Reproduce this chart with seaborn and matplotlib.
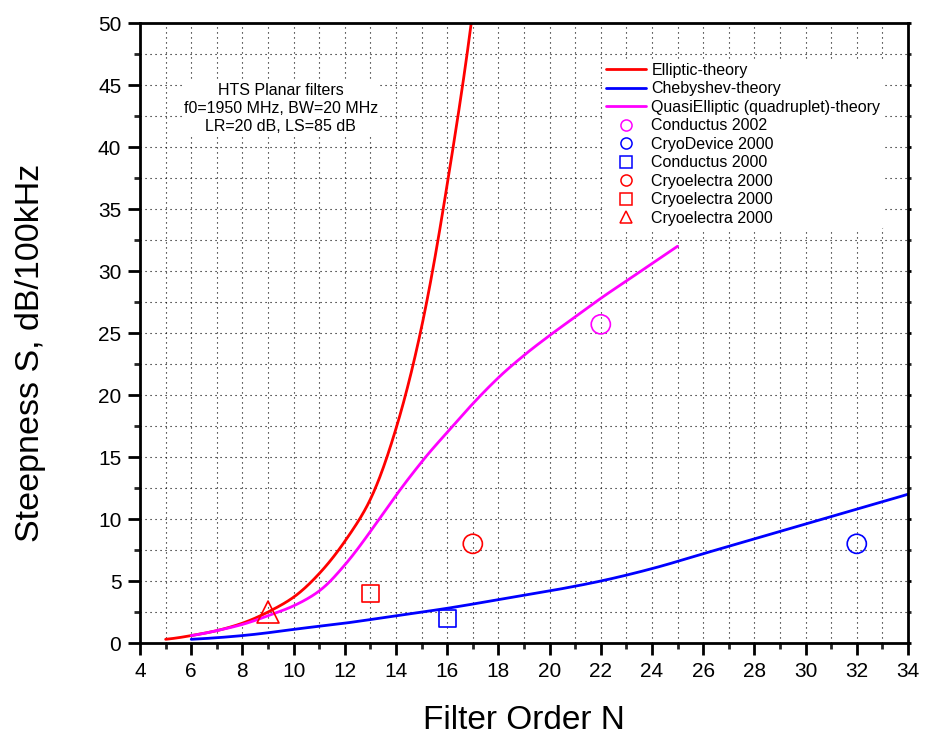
import numpy as np
import pandas as pd
import matplotlib
matplotlib.use("Agg")
import matplotlib.pyplot as plt
import seaborn as sns
from matplotlib.ticker import MultipleLocator
from matplotlib.lines import Line2D

sns.set_theme(style="white")
plt.rcParams['font.family'] = ['Liberation Sans', 'DejaVu Sans']
plt.rcParams['text.color'] = 'black'
plt.rcParams['axes.labelcolor'] = 'black'

# Theory curves
ell_n = [5, 6, 7, 8, 9, 10, 11, 12, 13, 14, 15, 16, 17]
ell_s = [0.3, 0.6, 1.0, 1.6, 2.5, 3.7, 5.6, 8.2, 11.6, 17.3, 25.5, 37.0, 51.0]
cheb_n = [6, 8, 10, 12, 14, 16, 18, 20, 22, 24, 26, 28, 30, 32, 34]
cheb_s = [0.3, 0.6, 1.1, 1.6, 2.2, 2.8, 3.5, 4.2, 5.0, 6.0, 7.2, 8.4, 9.6, 10.8, 12.0]
qe_n = [6, 7, 8, 9, 10, 11, 12, 13, 14, 15, 16, 17, 18, 19, 20, 21, 22, 23, 24, 25]
qe_s = [0.6, 1.0, 1.5, 2.2, 3.0, 4.2, 6.3, 9.0, 11.9, 14.6, 17.0, 19.3, 21.4, 23.2, 24.8, 26.3, 27.8, 29.2, 30.6, 32.0]

# Measured points
pt_labels = ["Conductus 2002", "CryoDevice 2000", "Conductus 2000",
             "Cryoelectra 2000", "Cryoelectra 2000", "Cryoelectra 2000"]
pt_n = [22, 32, 16, 17, 13, 9]
pt_s = [25.7, 8.0, 2.0, 8.0, 4.0, 2.5]
pt_colors = ["#ff00ff", "#0000ff", "#0000ff", "#ff0000", "#ff0000", "#ff0000"]
pt_markers = ["o", "o", "s", "o", "s", "^"]
pt_sizes = [190, 190, 150, 190, 150, 250]

fig = plt.figure(figsize=(9.25, 7.38), dpi=100)
ax = fig.add_axes([0.1514, 0.1287, 0.8302, 0.8401])

def smooth(xs, ys, num=400):
    xs = np.asarray(xs, float); ys = np.asarray(ys, float)
    xx = np.linspace(xs.min(), xs.max(), num)
    ly = np.log(ys)
    out = []
    for x in xx:
        i = np.searchsorted(xs, x) - 1
        i = min(max(i, 0), len(xs) - 2)
        x0, x1 = xs[i], xs[i + 1]
        t = (x - x0) / (x1 - x0)
        p0 = ly[i - 1] if i > 0 else 2 * ly[i] - ly[i + 1]
        p1 = ly[i]; p2 = ly[i + 1]
        p3 = ly[i + 2] if i + 2 < len(xs) else 2 * ly[i + 1] - ly[i]
        v = 0.5 * ((2 * p1) + (-p0 + p2) * t + (2 * p0 - 5 * p1 + 4 * p2 - p3) * t**2
                   + (-p0 + 3 * p1 - 3 * p2 + p3) * t**3)
        out.append(np.exp(v))
    return xx, np.array(out)

curves = [("Elliptic-theory", ell_n, ell_s, "#ff0000"),
          ("Chebyshev-theory", cheb_n, cheb_s, "#0000ff"),
          ("QuasiElliptic (quadruplet)-theory", qe_n, qe_s, "#ff00ff")]
handles = []
for name, xs, ys, c in curves:
    xx, yy = smooth(xs, ys)
    df = pd.DataFrame({"N": xx, "S": yy})
    sns.lineplot(data=df, x="N", y="S", ax=ax, color=c, linewidth=2, legend=False)
    handles.append(Line2D([], [], color=c, lw=2, label=name))

for lab, x, y, c, m, sz in zip(pt_labels, pt_n, pt_s, pt_colors, pt_markers, pt_sizes):
    df = pd.DataFrame({"N": [x], "S": [y]})
    sns.scatterplot(data=df, x="N", y="S", ax=ax, marker=m, s=sz,
                    facecolor="none", edgecolor=c, linewidth=1.2, legend=False, zorder=5)
    handles.append(Line2D([], [], ls="none", marker=m, markersize=8,
                          markerfacecolor="none", markeredgecolor=c, mew=1.1, label=lab))

ax.set_xlim(4, 34)
ax.set_ylim(0, 50)
ax.xaxis.set_major_locator(MultipleLocator(2))
ax.xaxis.set_minor_locator(MultipleLocator(1))
ax.yaxis.set_major_locator(MultipleLocator(5))
ax.yaxis.set_minor_locator(MultipleLocator(2.5))
ax.grid(True, which="both", color="black", linestyle=(0, (1, 3.5)), linewidth=0.8)
for sp in ax.spines.values():
    sp.set_color("black"); sp.set_linewidth(2)
ax.tick_params(axis="both", which="major", direction="out", length=8.5, width=2,
               labelsize=15, colors="black", bottom=True, left=True, pad=5)
ax.tick_params(axis="both", which="minor", direction="out", length=4.5, width=2,
               bottom=True, left=True)
ax.tick_params(axis="y", which="both", right=True, labelright=False)
for t in ax.yaxis.get_major_ticks() + ax.yaxis.get_minor_ticks():
    t.tick2line.set_markersize(2)

ax.set_xlabel("Filter Order N", fontsize=24, color="black")
ax.set_ylabel("Steepness S, dB/100kHz", fontsize=24.5, color="black")
ax.xaxis.set_label_coords(0.5, -0.1)
ax.yaxis.set_label_coords(-0.122, 0.468)

ax.text(9.5, 43.1, "HTS Planar filters\nf0=1950 MHz, BW=20 MHz\nLR=20 dB, LS=85 dB",
        ha="center", va="center", fontsize=11.5, linespacing=1.25, color="black",
        bbox=dict(facecolor="white", edgecolor="none", pad=1))

leg = ax.legend(handles=handles, loc="upper left", bbox_to_anchor=(0.592, 0.954),
                frameon=True, fontsize=11.5, handlelength=2.5, labelspacing=0.22,
                handletextpad=0.35, borderpad=0.2, labelcolor="black")
leg.get_frame().set_facecolor("white"); leg.get_frame().set_edgecolor("none")
leg.get_frame().set_alpha(1)

fig.savefig("out.png", dpi=100)
